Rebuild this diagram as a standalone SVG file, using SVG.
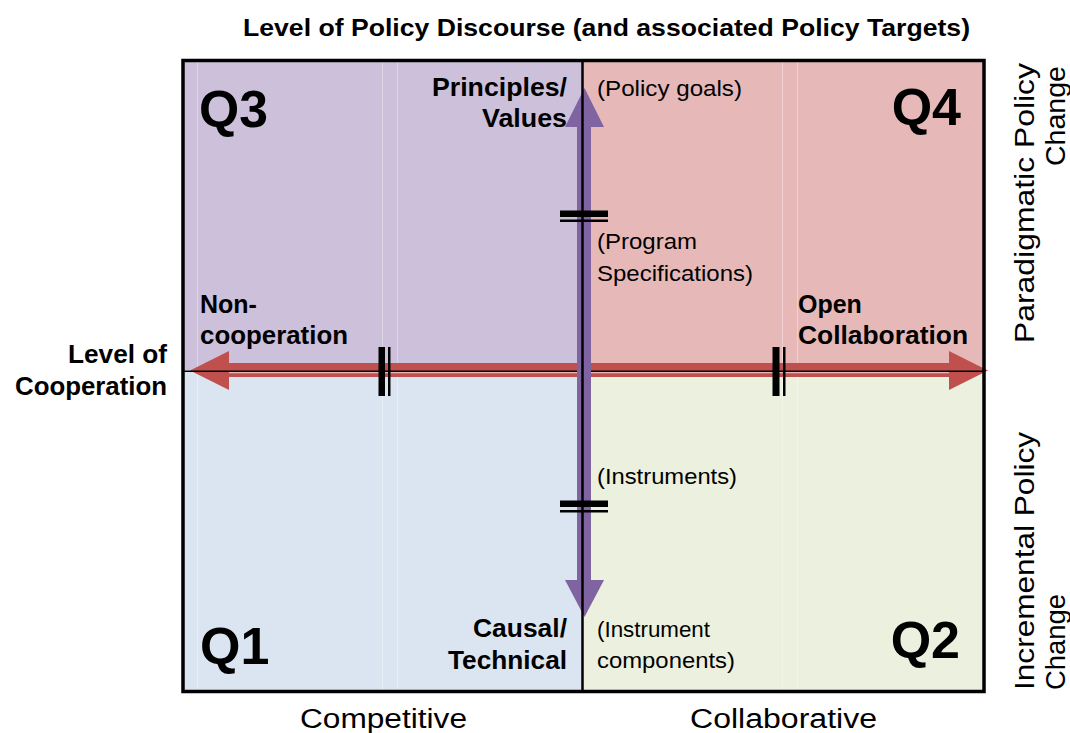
<svg xmlns="http://www.w3.org/2000/svg" width="1070" height="733" viewBox="0 0 1070 733">
<defs>
<style>
.b{font-family:"Liberation Sans",Arial,sans-serif;font-weight:bold;fill:#000}
.r{font-family:"Liberation Sans",Arial,sans-serif;fill:#000}
.lbl{font-size:25px}
.q{font-size:52px}
.sm{font-size:22.5px}
.ax{font-size:27px}
.rot{font-size:28.5px}
.faint{stroke:#ffffff;stroke-opacity:0.35;stroke-width:1}
</style>
</defs>
<rect width="1070" height="733" fill="#ffffff"/>
<g id="quadrants">
<rect id="q3" x="183" y="60.5" width="399" height="310" fill="#CCC0DA"/>
<rect id="q4" x="582" y="60.5" width="402" height="310" fill="#E6B9B8"/>
<rect id="q1" x="183" y="370.5" width="399" height="321" fill="#DBE5F1"/>
<rect id="q2" x="582" y="370.5" width="402" height="321" fill="#EBF1DE"/>
<line class="faint" x1="197.5" y1="62" x2="197.5" y2="690"/>
<line class="faint" x1="382.5" y1="62" x2="382.5" y2="690"/>
<line class="faint" x1="397.5" y1="62" x2="397.5" y2="690"/>
<line class="faint" x1="782.5" y1="62" x2="782.5" y2="690"/>
<line class="faint" x1="797.5" y1="62" x2="797.5" y2="690"/>
</g>
<g id="connectors">
<g id="h-arrow">
<rect x="228" y="363" width="722" height="14" fill="#C0504D"/>
<polygon points="190,370.5 229,351 229,390" fill="#C0504D"/>
<polygon points="988,370.5 949,351 949,390" fill="#C0504D"/>
<line x1="183" y1="371.3" x2="984" y2="371.3" stroke="#000" stroke-width="1.4"/>
<line x1="229" y1="372.7" x2="949" y2="372.7" stroke="#E6B9B8" stroke-width="1.3"/>
</g>
<g id="v-arrow">
<rect x="577" y="126" width="14" height="455" fill="#8064A2"/>
<polygon points="584.5,88 565,127 604,127" fill="#8064A2"/>
<polygon points="584.5,617 565,580 604,580" fill="#8064A2"/>
<line x1="582.5" y1="60.5" x2="582.5" y2="691.5" stroke="#000" stroke-width="2.5"/>
</g>
<g id="ticks" fill="#000">
<rect x="560" y="210.5" width="48" height="6.5"/>
<rect x="560" y="219.5" width="48" height="2.5"/>
<rect x="560" y="500.5" width="48" height="6.5"/>
<rect x="560" y="510" width="48" height="2.5"/>
<rect x="378.5" y="347" width="6.5" height="49"/>
<rect x="388" y="347" width="2.5" height="49"/>
<rect x="772.5" y="347" width="7" height="49"/>
<rect x="783" y="347" width="2.5" height="49"/>
</g>
</g>
<rect id="frame" x="183" y="60.5" width="801" height="631" fill="none" stroke="#000" stroke-width="3.5"/>
<g id="title"><text class="b" x="243" y="36" font-size="24.5" textLength="727" lengthAdjust="spacingAndGlyphs">Level of Policy Discourse (and associated Policy Targets)</text></g>
<g id="n-q3"><text class="b q" x="199" y="127" textLength="69" lengthAdjust="spacingAndGlyphs">Q3</text></g>
<g id="n-q4"><text class="b q" x="961" y="125" text-anchor="end">Q4</text></g>
<g id="n-q1"><text class="b q" x="200" y="664">Q1</text></g>
<g id="n-q2"><text class="b q" x="960" y="658" text-anchor="end">Q2</text></g>
<g id="n-level-coop">
<text class="b lbl" x="68" y="363" textLength="99" lengthAdjust="spacingAndGlyphs">Level of</text>
<text class="b lbl" x="15" y="395" textLength="152" lengthAdjust="spacingAndGlyphs">Cooperation</text>
</g>
<g id="n-noncoop">
<text class="b lbl" x="200" y="313">Non-</text>
<text class="b lbl" x="200" y="344" textLength="148" lengthAdjust="spacingAndGlyphs">cooperation</text>
</g>
<g id="n-opencollab">
<text class="b lbl" x="798" y="313">Open</text>
<text class="b lbl" x="798" y="344" textLength="170" lengthAdjust="spacingAndGlyphs">Collaboration</text>
</g>
<g id="n-principles">
<text class="b lbl" x="432" y="96" textLength="135" lengthAdjust="spacingAndGlyphs">Principles/</text>
<text class="b lbl" x="482" y="127" textLength="85" lengthAdjust="spacingAndGlyphs">Values</text>
</g>
<g id="n-causal">
<text class="b lbl" x="473" y="637" textLength="94" lengthAdjust="spacingAndGlyphs">Causal/</text>
<text class="b lbl" x="448" y="669" textLength="119" lengthAdjust="spacingAndGlyphs">Technical</text>
</g>
<g id="n-goals"><text class="r sm" x="597" y="96" textLength="145" lengthAdjust="spacingAndGlyphs">(Policy goals)</text></g>
<g id="n-program">
<text class="r sm" x="597" y="249" textLength="100" lengthAdjust="spacingAndGlyphs">(Program</text>
<text class="r sm" x="597" y="281" textLength="156" lengthAdjust="spacingAndGlyphs">Specifications)</text>
</g>
<g id="n-instruments"><text class="r sm" x="597" y="484" textLength="140" lengthAdjust="spacingAndGlyphs">(Instruments)</text></g>
<g id="n-components">
<text class="r sm" x="597" y="637" textLength="113" lengthAdjust="spacingAndGlyphs">(Instrument</text>
<text class="r sm" x="597" y="668" textLength="138" lengthAdjust="spacingAndGlyphs">components)</text>
</g>
<g id="n-competitive"><text class="r ax" x="300" y="728" textLength="167" lengthAdjust="spacingAndGlyphs">Competitive</text></g>
<g id="n-collaborative"><text class="r ax" x="690" y="728" textLength="187" lengthAdjust="spacingAndGlyphs">Collaborative</text></g>
<g id="n-paradigmatic">
<text class="r rot" transform="translate(1034,63) rotate(-90)" text-anchor="end" textLength="280" lengthAdjust="spacingAndGlyphs">Paradigmatic Policy</text>
<text class="r rot" transform="translate(1065,66) rotate(-90)" text-anchor="end" textLength="100" lengthAdjust="spacingAndGlyphs">Change</text>
</g>
<g id="n-incremental">
<text class="r rot" transform="translate(1034,690) rotate(-90)" textLength="258" lengthAdjust="spacingAndGlyphs">Incremental Policy</text>
<text class="r rot" transform="translate(1065,690) rotate(-90)" textLength="96" lengthAdjust="spacingAndGlyphs">Change</text>
</g>
</svg>
